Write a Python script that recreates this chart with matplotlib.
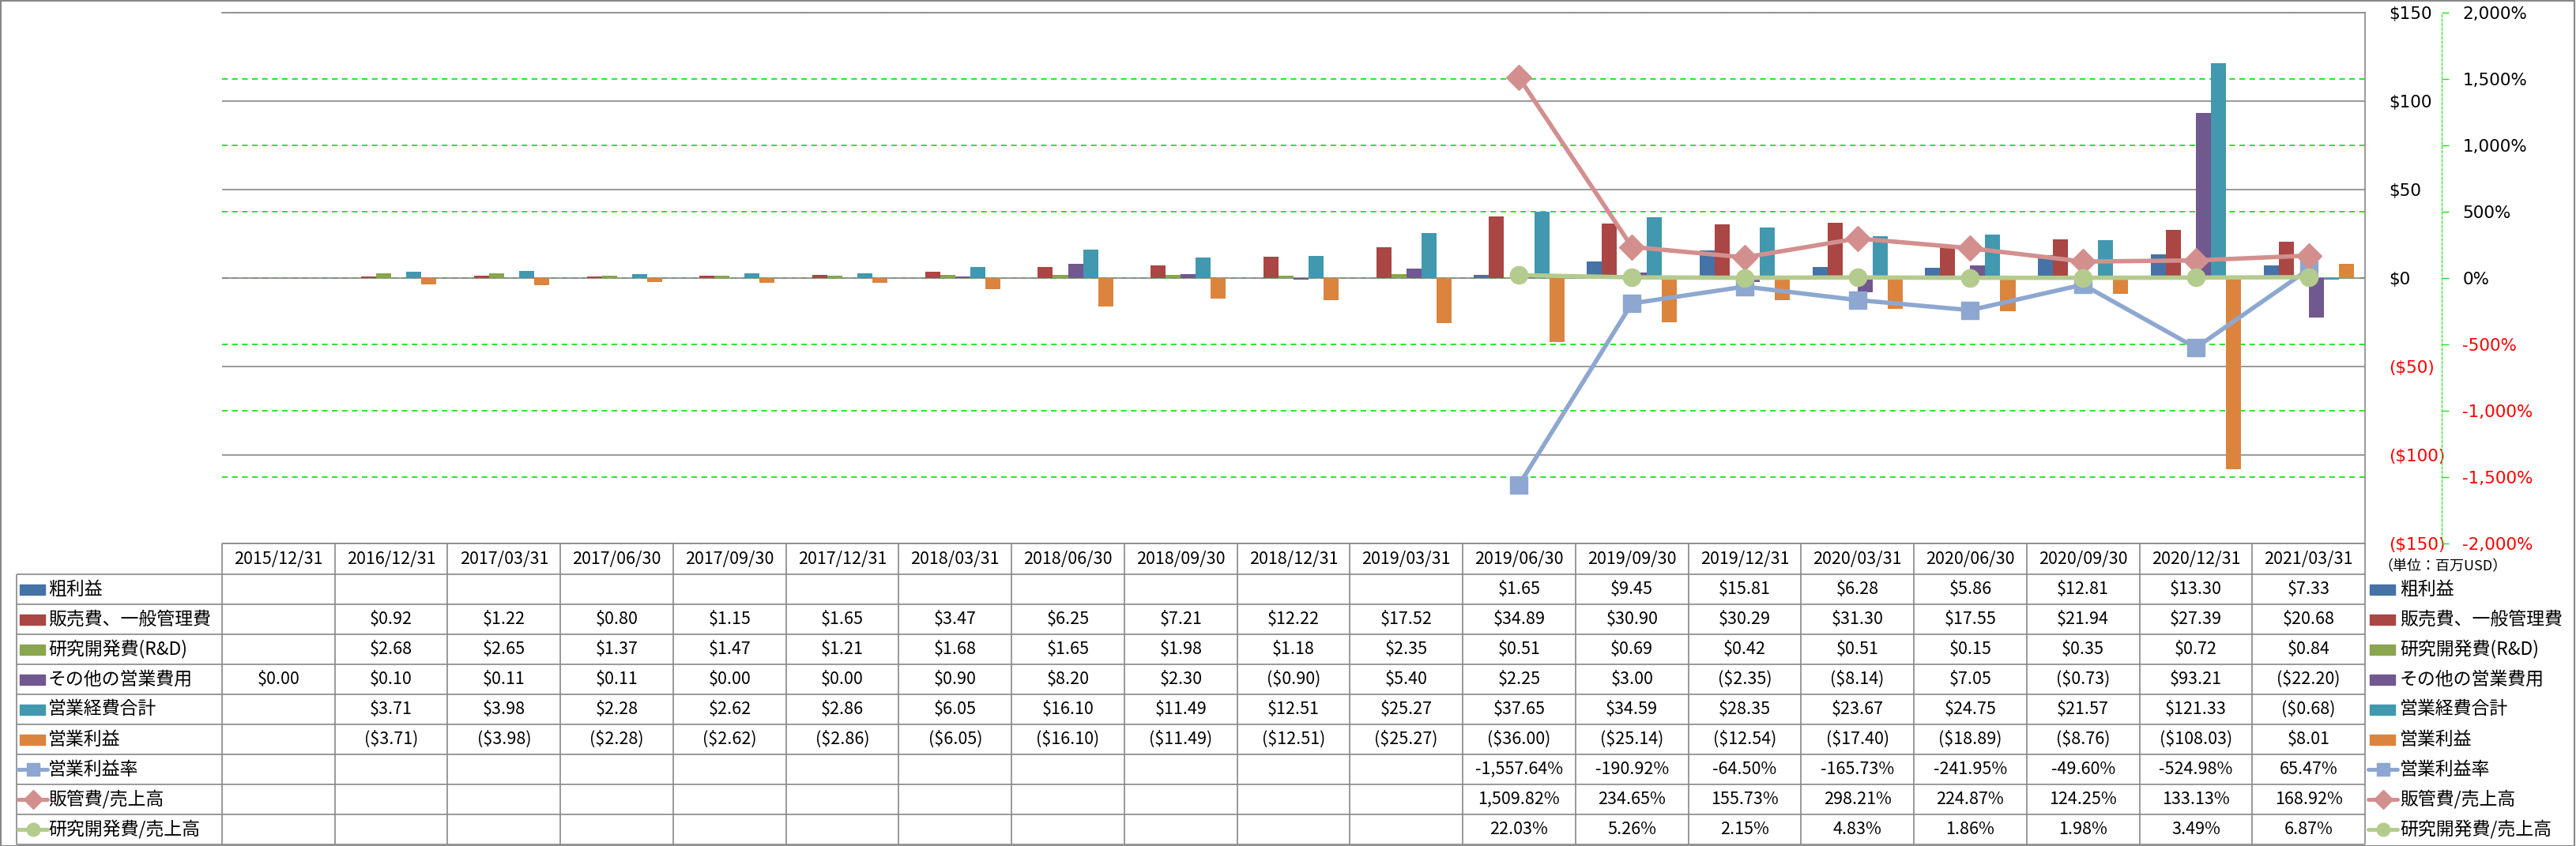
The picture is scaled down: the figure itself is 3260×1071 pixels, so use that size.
import matplotlib.pyplot as plt
import numpy as np
from matplotlib.patches import Rectangle

plt.rcParams['font.family'] = ['Noto Sans CJK JP', 'DejaVu Sans']

nan = np.nan

# data (単位: 百万USD)
dates = ['2015/12/31', '2016/12/31', '2017/03/31', '2017/06/30', '2017/09/30',
         '2017/12/31', '2018/03/31', '2018/06/30', '2018/09/30', '2018/12/31',
         '2019/03/31', '2019/06/30', '2019/09/30', '2019/12/31', '2020/03/31',
         '2020/06/30', '2020/09/30', '2020/12/31', '2021/03/31']
gross = [nan] * 11 + [1.65, 9.45, 15.81, 6.28, 5.86, 12.81, 13.30, 7.33]
sga = [nan, 0.92, 1.22, 0.80, 1.15, 1.65, 3.47, 6.25, 7.21, 12.22, 17.52,
       34.89, 30.90, 30.29, 31.30, 17.55, 21.94, 27.39, 20.68]
rnd = [nan, 2.68, 2.65, 1.37, 1.47, 1.21, 1.68, 1.65, 1.98, 1.18, 2.35,
       0.51, 0.69, 0.42, 0.51, 0.15, 0.35, 0.72, 0.84]
other = [0.00, 0.10, 0.11, 0.11, 0.00, 0.00, 0.90, 8.20, 2.30, -0.90, 5.40,
         2.25, 3.00, -2.35, -8.14, 7.05, -0.73, 93.21, -22.20]
opex = [nan, 3.71, 3.98, 2.28, 2.62, 2.86, 6.05, 16.10, 11.49, 12.51, 25.27,
        37.65, 34.59, 28.35, 23.67, 24.75, 21.57, 121.33, -0.68]
opinc = [nan, -3.71, -3.98, -2.28, -2.62, -2.86, -6.05, -16.10, -11.49, -12.51, -25.27,
         -36.00, -25.14, -12.54, -17.40, -18.89, -8.76, -108.03, 8.01]
op_margin = [nan] * 11 + [-1557.64, -190.92, -64.50, -165.73, -241.95, -49.60, -524.98, 65.47]
sga_ratio = [nan] * 11 + [1509.82, 234.65, 155.73, 298.21, 224.87, 124.25, 133.13, 168.92]
rnd_ratio = [nan] * 11 + [22.03, 5.26, 2.15, 4.83, 1.86, 1.98, 3.49, 6.87]

bar_names = ['粗利益', '販売費、一般管理費', '研究開発費(R&D)', 'その他の営業費用', '営業経費合計', '営業利益']
bar_vals = [gross, sga, rnd, other, opex, opinc]
bar_colors = ['#4572A7', '#AA4643', '#89A54E', '#71588F', '#4198AF', '#DB843D']

line_names = ['営業利益率', '販管費/売上高', '研究開発費/売上高']
line_vals = [op_margin, sga_ratio, rnd_ratio]
line_colors = ['#8EA7D0', '#D38F8E', '#B4CB8E']
line_markers = ['s', 'D', 'o']

usd_ticks = np.arange(-150, 151, 50)
pct_ticks = np.arange(-2000, 2001, 500)


def usd(v, d=2):
    if np.isnan(v):
        return ''
    return f'${v:,.{d}f}' if v >= 0 else f'(${-v:,.{d}f})'


def pct(v, d=2):
    if np.isnan(v):
        return ''
    return f'{v:,.{d}f}%'


# layout in pixels
W, H = 3260, 1071
PL, PR, PT, PB = 281, 2993, 16, 688
col_w = (PR - PL) / len(dates)
row_top, row_h = 727, 38
gray = '#888888'
green = '#1EE21E'

fig = plt.figure(figsize=(W / 100, H / 100), dpi=100, facecolor='white')
ax = fig.add_axes([PL / W, 1 - PB / H, (PR - PL) / W, (PB - PT) / H])

x = np.arange(len(dates))
bw = 1 / 7.5
for j, (vals, c) in enumerate(zip(bar_vals, bar_colors)):
    ax.bar(x + (j - 2.5) * bw, vals, bw, color=c, zorder=2)

# secondary gridlines (behind bars)
for p in pct_ticks:
    ax.axhline(p * 150 / 2000, color=green, lw=1.3, ls=(0, (4, 3)), zorder=0.4)

ax2 = ax.twinx()
ax2.set_ylim(-2000, 2000)
for vals, c, m in zip(line_vals, line_colors, line_markers):
    ax2.plot(x, vals, color=c, lw=4, marker=m, ms=16, mec=c, mfc=c, zorder=3)
ax2.set_yticks(pct_ticks)
ax2.set_yticklabels([pct(v, 0) for v in pct_ticks])
ax2.spines['right'].set_position(('axes', (3090 - PL) / (PR - PL)))
ax2.spines['right'].set_color(green)
ax2.spines['right'].set_linestyle((0, (3, 2)))
for s in ['left', 'top', 'bottom']:
    ax2.spines[s].set_visible(False)
ax2.tick_params(axis='y', color=green, length=6.5, width=1, pad=12.5, labelsize=15.5)
for lbl, v in zip(ax2.get_yticklabels(), pct_ticks):
    lbl.set_color('red' if v < 0 else 'black')
    lbl.set_family('DejaVu Sans')

# primary axis (labels on the right, after twinx)
ax.set_xlim(-0.5, len(dates) - 0.5)
ax.set_ylim(-150, 150)
ax.set_xticks([])
ax.set_yticks(usd_ticks)
ax.set_yticklabels([usd(v, 0) for v in usd_ticks])
ax.yaxis.tick_right()
ax.tick_params(axis='y', length=0, pad=22, labelsize=15.5, labelleft=False, labelright=True)
for lbl, v in zip(ax.get_yticklabels(), usd_ticks):
    lbl.set_color('red' if v < 0 else 'black')
    lbl.set_family('DejaVu Sans')
ax.grid(axis='y', color=gray, lw=1.2)
ax.set_axisbelow(True)
ax.spines['left'].set_visible(False)
ax.spines['bottom'].set_visible(False)
ax.spines['top'].set_color(gray)
ax.spines['right'].set_color(gray)
ax.spines['right'].set_linewidth(1.2)
ax.spines['top'].set_linewidth(1.2)

# data table
tab = fig.add_axes([0, 0, 1, 1], zorder=5)
tab.set_xlim(0, W)
tab.set_ylim(H, 0)
tab.axis('off')

n_rows = len(bar_names) + len(line_names)
row_bot = row_top + n_rows * row_h
tab.hlines(PB, PL, PR, color=gray, lw=1.2)
tab.vlines(PL + col_w * np.arange(len(dates) + 1), PB, row_bot, color=gray, lw=1.2)
tab.hlines(row_top + row_h * np.arange(n_rows + 1), 21, PR, color=gray, lw=1.2)
tab.vlines(21, row_top, row_bot, color=gray, lw=1.2)
tab.add_patch(Rectangle((1, 1), W - 3, row_bot + 1, fill=False, ec=gray, lw=1.5))

for i, d in enumerate(dates):
    tab.text(PL + (i + 0.5) * col_w, (PB + row_top) / 2, d, ha='center', va='center', fontsize=15.5)


def draw_key(xl, yc, color, marker=None):
    if marker is None:
        tab.add_patch(Rectangle((xl + 2, yc - 6.5), 32, 13, color=color))
    else:
        tab.plot([xl, xl + 37], [yc, yc], color=color, lw=3.6, solid_capstyle='round')
        tab.plot([xl + 18.5], [yc], marker=marker, ms=12, color=color)


rows = [(n, v, c, None, usd) for n, v, c in zip(bar_names, bar_vals, bar_colors)]
rows += [(n, v, c, m, pct) for n, v, c, m in zip(line_names, line_vals, line_colors, line_markers)]
for r, (name, vals, c, m, f) in enumerate(rows):
    yc = row_top + (r + 0.5) * row_h
    draw_key(23, yc, c, m)
    tab.text(61, yc, name, ha='left', va='center', fontsize=16.5)
    draw_key(2997, yc, c, m)
    tab.text(3037, yc, name, ha='left', va='center', fontsize=16.5)
    for i, v in enumerate(vals):
        tab.text(PL + (i + 0.5) * col_w, yc, f(v), ha='center', va='center', fontsize=15.5)

tab.text(3010, 717, '（単位：百万USD）', ha='left', va='center', fontsize=13)

fig.savefig('out.png', dpi=100, facecolor='white')
